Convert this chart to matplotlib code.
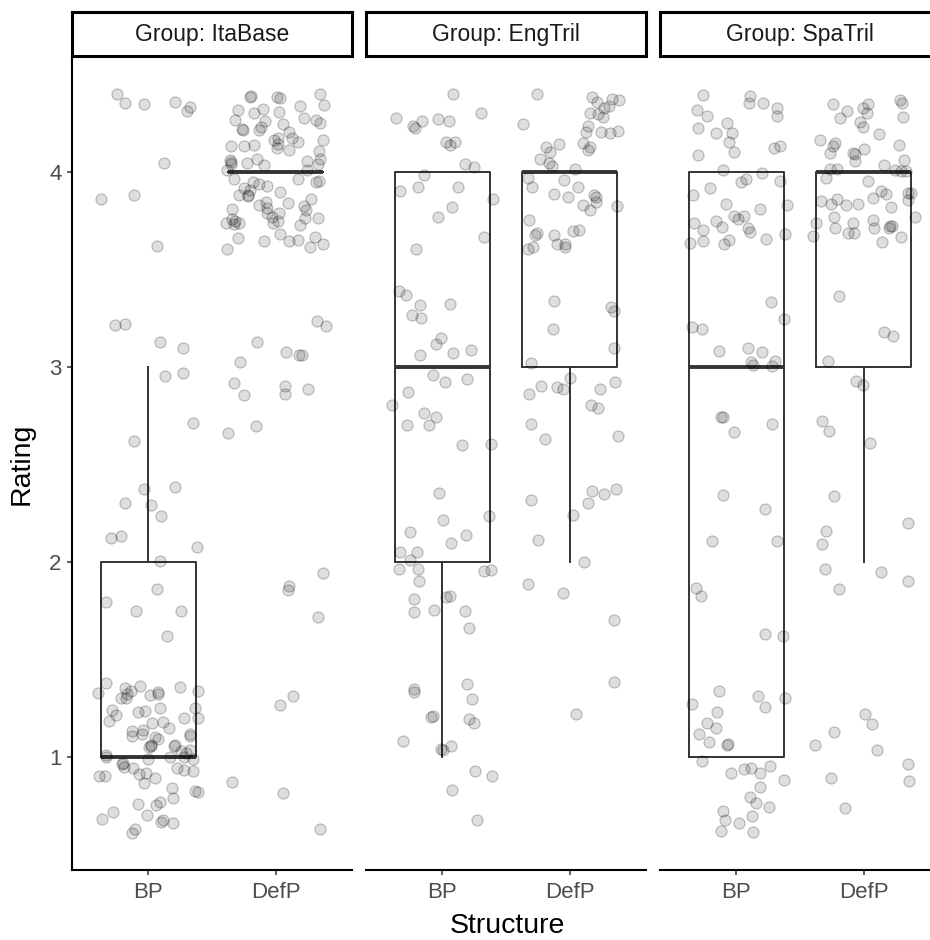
import numpy as np
import matplotlib
matplotlib.use("Agg")
from matplotlib import pyplot as plt

plt.rcParams['font.family'] = ['Liberation Sans', 'DejaVu Sans']

# data: number of ratings at each level 1..4
groups = ["ItaBase", "EngTril", "SpaTril"]
structures = ["BP", "DefP"]
levels = [1, 2, 3, 4]
bp_counts = [[75, 14, 8, 10], [16, 21, 22, 22], [29, 8, 15, 42]]
defp_counts = [[5, 4, 14, 88], [2, 11, 18, 49], [9, 8, 9, 57]]

W, H = 930, 940
fig = plt.figure(figsize=(W / 100, H / 100), dpi=100)


def jitter(idx, salt):
    # hash-style scatter in [-0.4, 0.4], same spread as geom_jitter
    v = np.sin(idx * 12.9898 + salt * 78.233) * 43758.5453
    return (v - np.floor(v) - 0.5) * 0.8


k = 0
panel_left = 72
panel_w = 280
step = 294
top, bottom = 57, 870

for g, name in enumerate(groups):
    x0 = panel_left + g * step
    ax = fig.add_axes([x0 / W, (H - bottom) / H, panel_w / W, (bottom - top) / H])
    sax = fig.add_axes([x0 / W, (H - top + 1) / H, panel_w / W, 44 / H])

    ratings = []
    for counts in (bp_counts[g], defp_counts[g]):
        ratings.append(np.repeat(levels, counts).astype(float))

    ax.boxplot(ratings, positions=[1, 2], widths=0.75, whis=1.5,
               showfliers=False, showcaps=False,
               boxprops=dict(color='#333333', linewidth=1.4),
               whiskerprops=dict(color='#333333', linewidth=1.4),
               medianprops=dict(color='#333333', linewidth=2.8, solid_capstyle='butt'),
               zorder=2)

    for i, r in enumerate(ratings):
        n = len(r)
        idx = np.arange(k, k + n) + 1.0
        k += n
        jx = jitter(idx, 1.0)
        jy = jitter(idx, 2.0)
        ax.scatter(i + 1 + jx, r + jy, s=64, facecolor=(0, 0, 0, 0.13),
                   edgecolor=(0, 0, 0, 0.24), linewidth=0.8, zorder=3)

    ax.set_xlim(0.4, 2.6)
    ax.set_ylim(0.42, 4.59)
    ax.set_xticks([1, 2])
    ax.set_xticklabels(structures)
    ax.tick_params(axis='x', length=3.6, width=1.1, color='#333333',
                   labelsize=16, labelcolor='#4D4D4D', pad=5)
    for s in ['top', 'right']:
        ax.spines[s].set_visible(False)
    ax.spines['bottom'].set_linewidth(1.5)
    ax.spines['left'].set_linewidth(1.5)
    if g == 0:
        ax.set_yticks([1, 2, 3, 4])
        ax.tick_params(axis='y', length=3.6, width=1.1, color='#333333',
                       labelsize=16, labelcolor='#4D4D4D', pad=4)
        ax.set_ylabel("Rating", fontsize=20.5, labelpad=10)
    else:
        ax.spines['left'].set_visible(False)
        ax.set_yticks([])

    sax.set_xticks([])
    sax.set_yticks([])
    for s in sax.spines.values():
        s.set_linewidth(2.2)
        s.set_color('black')
    sax.text(0.5, 0.5, "Group: " + name, ha='center', va='center',
             fontsize=16.5, color='#1A1A1A', transform=sax.transAxes)

fig.text((72 + 942) / 2 / W, 1 - 926 / H, "Structure", ha='center', va='center',
         fontsize=20.5, color='black')

plt.savefig('out.png', dpi=100)
